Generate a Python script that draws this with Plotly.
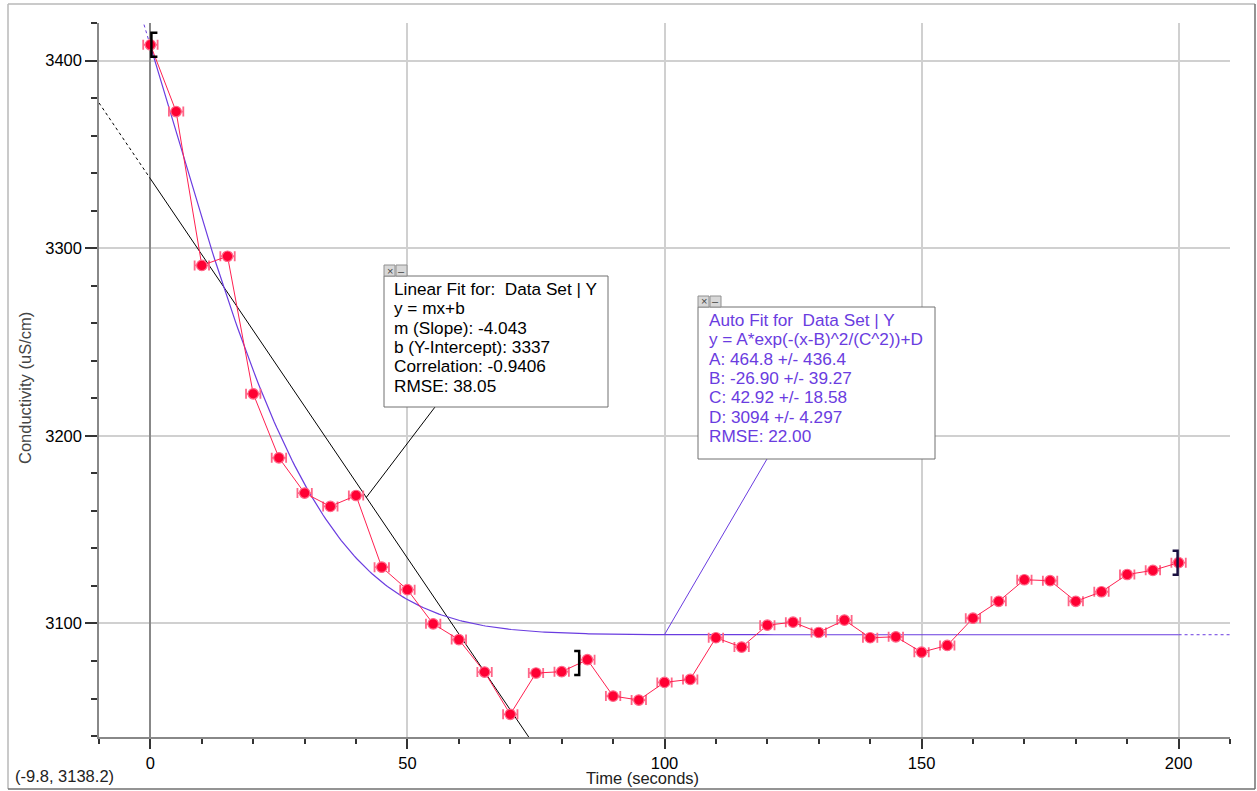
import numpy as np
import plotly.graph_objects as go

# ---------------- data ----------------
time_s = list(range(0, 205, 5))
conductivity = [3408.4, 3372.8, 3290.8, 3295.7, 3222.4, 3188.3, 3169.5, 3162.4, 3168.2,
                3130.0, 3118.0, 3099.8, 3091.4, 3074.1, 3051.6, 3073.6, 3074.3, 3080.7,
                3061.3, 3059.2, 3068.6, 3070.2, 3092.4, 3087.4, 3099.1, 3100.7, 3095.2,
                3101.8, 3092.4, 3092.9, 3084.7, 3088.3, 3102.8, 3111.8, 3123.3, 3122.8,
                3111.8, 3116.9, 3126.1, 3128.3, 3132.4]

lin_m, lin_b = -4.043, 3337.0
fit_A, fit_B, fit_C, fit_D = 464.8, -26.90, 42.92, 3094.0
lin_range = (0.0, 83.6)
auto_range = (0.0, 200.0)
lin_label_x = 42.0
auto_label_x = 100.0

lin_text = ["Linear Fit for:  Data Set | Y", "y = mx+b", "m (Slope): -4.043",
            "b (Y-Intercept): 3337", "Correlation: -0.9406", "RMSE: 38.05"]
auto_text = ["Auto Fit for  Data Set | Y", "y = A*exp(-(x-B)^2/(C^2))+D",
             "A: 464.8 +/- 436.4", "B: -26.90 +/- 39.27", "C: 42.92 +/- 18.58",
             "D: 3094 +/- 4.297", "RMSE: 22.00"]
cursor_text = "(-9.8, 3138.2)"
x_title = "Time (seconds)"
y_title = "Conductivity (uS/cm)"

x_range = [-10, 210]
y_range = [3039.5, 3420]

# ---------------- helpers ----------------
def lin(x):
    return lin_m * np.asarray(x) + lin_b

def gauss(x):
    x = np.asarray(x, dtype=float)
    return fit_A * np.exp(-((x - fit_B) ** 2) / (fit_C ** 2)) + fit_D

def interp_data(x):
    return float(np.interp(x, time_s, conductivity))

L, R, T, B = 99, 1230, 23, 737
W, H = R - L, B - T
def PX(px):
    return (px - L) / W
def PY(py):
    return (B - py) / H

FONT = "Arial, Liberation Sans, sans-serif"
FS = 16.5
FS_BOX = 17.2
RED = "#ff0033"
PURPLE = "#6a3ce0"

fig = go.Figure()

# linear fit: dotted extrapolation and solid fit
xl_d = np.linspace(x_range[0], lin_range[0], 20)
fig.add_trace(go.Scatter(x=xl_d, y=lin(xl_d), mode="lines",
                         line=dict(color="black", width=1, dash="dot"), hoverinfo="skip"))
xl_s = np.linspace(lin_range[0], x_range[1], 50)
fig.add_trace(go.Scatter(x=xl_s, y=lin(xl_s), mode="lines",
                         line=dict(color="black", width=1), hoverinfo="skip"))

# gaussian fit
xg_d1 = np.linspace(x_range[0], auto_range[0], 40)
fig.add_trace(go.Scatter(x=xg_d1, y=gauss(xg_d1), mode="lines",
                         line=dict(color=PURPLE, width=1, dash="dot"), hoverinfo="skip"))
xg_s = np.linspace(auto_range[0], auto_range[1], 400)
fig.add_trace(go.Scatter(x=xg_s, y=gauss(xg_s), mode="lines",
                         line=dict(color=PURPLE, width=1.2), hoverinfo="skip"))
xg_d2 = np.linspace(auto_range[1], x_range[1], 20)
fig.add_trace(go.Scatter(x=xg_d2, y=gauss(xg_d2), mode="lines",
                         line=dict(color=PURPLE, width=1, dash="dot"), hoverinfo="skip"))

# data
fig.add_trace(go.Scatter(
    x=time_s, y=conductivity, mode="lines+markers",
    line=dict(color="#ff2050", width=1),
    marker=dict(color=RED, size=10.5, symbol="circle", line=dict(color="#ff6688", width=1.2)),
    error_x=dict(type="constant", value=1.4, color="#ff6688", thickness=1.8, width=5),
    hoverinfo="skip"))

shapes = []
# selection brackets
def bracket(x, y, left=True, color="black"):
    if left:
        path = "M 7,12 L 1,12 L 1,-12 L 7,-12"
    else:
        path = "M -6,12 L -1,12 L -1,-12 L -6,-12"
    return dict(type="path", xref="x", yref="y", xsizemode="pixel", ysizemode="pixel",
                xanchor=x, yanchor=y, path=path, line=dict(color=color, width=2.5))
shapes.append(bracket(lin_range[0], interp_data(lin_range[0]), True))
shapes.append(bracket(lin_range[1], interp_data(lin_range[1]), False))
shapes.append(bracket(auto_range[1], interp_data(auto_range[1]), False, "#1a1040"))

# connector lines from boxes to curves
shapes.append(dict(type="line", xref="paper", yref="paper", x0=PX(435), y0=PY(407),
                   x1=(lin_label_x - x_range[0]) / (x_range[1] - x_range[0]),
                   y1=(float(lin(lin_label_x)) - y_range[0]) / (y_range[1] - y_range[0]),
                   line=dict(color="black", width=1)))
shapes.append(dict(type="line", xref="paper", yref="paper", x0=PX(767), y0=PY(459),
                   x1=(auto_label_x - x_range[0]) / (x_range[1] - x_range[0]),
                   y1=(float(gauss(auto_label_x)) - y_range[0]) / (y_range[1] - y_range[0]),
                   line=dict(color=PURPLE, width=1)))

# boxes
def box(x0, y0, x1, y1):
    shapes.append(dict(type="rect", xref="paper", yref="paper", x0=PX(x0), y0=PY(y1),
                       x1=PX(x1), y1=PY(y0), line=dict(color="#707070", width=1),
                       fillcolor="white", layer="above"))
    for bx in (x0, x0 + 12):
        shapes.append(dict(type="rect", xref="paper", yref="paper", x0=PX(bx), y0=PY(y0),
                           x1=PX(bx + 11), y1=PY(y0 - 11), line=dict(color="#909090", width=1),
                           fillcolor="#d8d8d8", layer="above"))
box(384, 276, 608, 407)
box(698, 307, 935, 459)

# outer frame
frame = [((8, 4), (1255, 4), "#b8b8b8"), ((8, 4), (8, 789), "#b8b8b8"),
         ((1255, 4), (1255, 789), "#707070"), ((8, 789), (1255, 789), "#707070")]
for (ax, ay), (bx, by), c in frame:
    shapes.append(dict(type="line", xref="paper", yref="paper", x0=PX(ax), y0=PY(ay),
                       x1=PX(bx), y1=PY(by), line=dict(color=c, width=1.5)))

annotations = []
def text_lines(lines, x, y0, color):
    for i, t in enumerate(lines):
        annotations.append(dict(xref="paper", yref="paper", x=PX(x), y=PY(y0 + 19.3 * i),
                                xanchor="left", yanchor="middle", text=t, showarrow=False,
                                font=dict(family=FONT, size=FS_BOX, color=color)))
text_lines(lin_text, 392, 289, "black")
text_lines(auto_text, 707, 320, PURPLE)

for bx0, by0 in ((384, 276), (698, 307)):
    annotations.append(dict(xref="paper", yref="paper", x=PX(bx0 + 5.5), y=PY(by0 - 5.5),
                            xanchor="center", yanchor="middle",
                            text="×", showarrow=False, font=dict(family=FONT, size=11, color="#444")))
    annotations.append(dict(xref="paper", yref="paper", x=PX(bx0 + 17.5), y=PY(by0 - 5.5),
                            xanchor="center", yanchor="middle",
                            text="–", showarrow=False, font=dict(family=FONT, size=11, color="#444")))
annotations.append(dict(xref="paper", yref="paper", x=PX(642), y=PY(778), xanchor="center",
                        yanchor="middle", text=x_title,
                        showarrow=False, font=dict(family=FONT, size=FS, color="#222")))
annotations.append(dict(xref="paper", yref="paper", x=PX(25), y=PY(388), xanchor="center",
                        yanchor="middle", text=y_title,
                        textangle=-90, showarrow=False, font=dict(family=FONT, size=FS, color="#444")))
annotations.append(dict(xref="paper", yref="paper", x=PX(13), y=PY(776), xanchor="left",
                        yanchor="middle", text=cursor_text,
                        showarrow=False, font=dict(family=FONT, size=FS, color="#222")))

fig.update_layout(
    width=1257, height=791,
    margin=dict(l=L, r=1257 - R, t=T, b=791 - B),
    paper_bgcolor="white", plot_bgcolor="white",
    showlegend=False,
    shapes=shapes, annotations=annotations,
    font=dict(family=FONT, size=FS, color="black"),
    xaxis=dict(range=x_range, tick0=0, dtick=50, ticks="outside", ticklen=10, tickwidth=1.5,
               tickcolor="#333", showline=True, linecolor="#888", linewidth=1.5,
               showgrid=True, gridcolor="#d0d0d0", gridwidth=1.5,
               zeroline=True, zerolinecolor="#888", zerolinewidth=2,
               minor=dict(dtick=10, ticks="outside", ticklen=5, tickcolor="#333", showgrid=False),
               tickfont=dict(family=FONT, size=FS, color="black")),
    yaxis=dict(range=y_range, tick0=0, dtick=100, ticks="outside", ticklen=12, tickwidth=1.5,
               tickcolor="#333", showline=True, linecolor="#888", linewidth=1.5,
               showgrid=True, gridcolor="#d0d0d0", gridwidth=1.5, zeroline=False,
               minor=dict(dtick=20, ticks="outside", ticklen=6, tickcolor="#333", showgrid=False),
               tickfont=dict(family=FONT, size=FS, color="black")),
)

fig.write_html("out.html")
